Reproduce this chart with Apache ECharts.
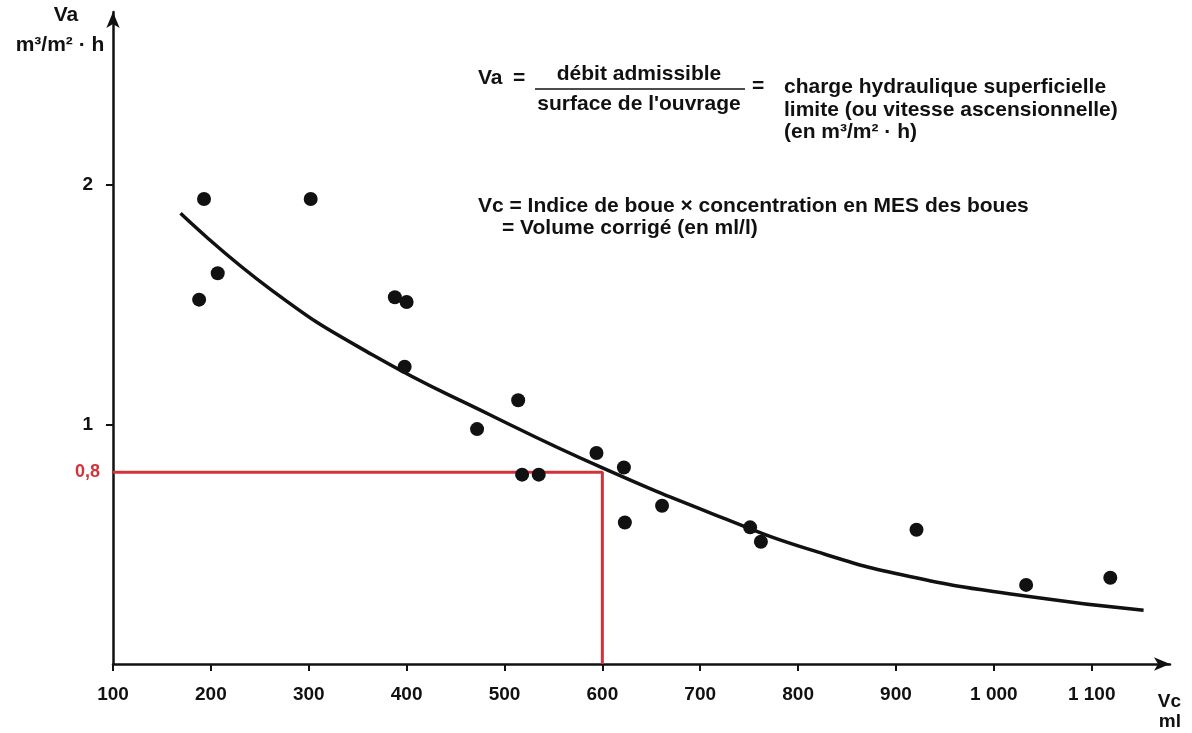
<!DOCTYPE html>
<html>
<head>
<meta charset="utf-8">
<script src="https://cdn.jsdelivr.net/npm/echarts@6/dist/echarts.min.js"></script>
<style>
html, body { margin: 0; padding: 0; background: #fff; }
#chart { width: 1192px; height: 733px; }
</style>
</head>
<body>
<div id="chart"></div>
<script>
// measured points (Vc in ml, Va in m3/m2.h)
const vcPoints = [188, 193, 207, 302, 388, 400, 398, 472, 514, 518, 535, 594, 622, 623, 661, 751, 762, 921, 1033, 1119];
const vaPoints = [1.52, 1.94, 1.63, 1.94, 1.53, 1.51, 1.24, 0.98, 1.10, 0.79, 0.79, 0.88, 0.82, 0.59, 0.66, 0.57, 0.51, 0.56, 0.33, 0.36];

// fitted curve
const curveVc = [169, 262, 365, 485, 599, 723, 814, 914, 1032, 1153];
const curveVa = [1.88, 1.56, 1.29, 1.04, 0.82, 0.61, 0.475, 0.365, 0.284, 0.224];

const xTicks = [100, 200, 300, 400, 500, 600, 700, 800, 900, 1000, 1100];
const xTickLabels = ['100', '200', '300', '400', '500', '600', '700', '800', '900', '1 000', '1 100'];
const yTicks = [1, 2];
const yTickLabels = ['1', '2'];

// reading line for Vc = 600
const refVc = 600;
const refVa = 0.8;
const refLabel = '0,8';

const ink = '#111';
const red = '#d0343a';
const font = '"Liberation Sans", Arial, sans-serif';

const chart = echarts.init(document.getElementById('chart'));

function txt(text, x, y, align, size) {
    return {
        type: 'text',
        style: {
            text: text, x: x, y: y,
            align: align, textAlign: align,
            verticalAlign: 'middle', textVerticalAlign: 'middle',
            fontFamily: font, fontSize: size || 21, fontWeight: 'bold',
            fill: ink
        }
    };
}

const option = {
    animation: false,
    backgroundColor: '#fff',
    grid: { left: 113, right: 22, top: 12, bottom: 69 },
    xAxis: {
        type: 'value',
        min: 100,
        max: 1180,
        splitLine: { show: false },
        axisLine: {
            lineStyle: { color: ink, width: 2.5 },
            symbol: ['none', 'arrow'],
            symbolSize: [10, 16]
        },
        axisTick: {
            customValues: xTicks,
            length: 7,
            lineStyle: { color: ink, width: 2 }
        },
        axisLabel: {
            customValues: xTicks,
            margin: 21,
            color: ink,
            fontFamily: font,
            fontSize: 19,
            fontWeight: 'bold',
            formatter: function (v) {
                const i = xTicks.indexOf(v);
                return i >= 0 ? xTickLabels[i] : '';
            }
        }
    },
    yAxis: {
        type: 'value',
        min: 0,
        max: 2.72,
        splitLine: { show: false },
        axisLine: {
            onZero: false,
            lineStyle: { color: ink, width: 2.5 },
            symbol: ['none', 'arrow'],
            symbolSize: [10, 16]
        },
        axisTick: {
            customValues: yTicks,
            length: 7,
            lineStyle: { color: ink, width: 2 }
        },
        axisLabel: {
            customValues: [refVa].concat(yTicks),
            margin: 13,
            color: ink,
            fontFamily: font,
            fontSize: 19,
            fontWeight: 'bold',
            formatter: function (v) {
                if (v === refVa) return '{r|' + refLabel + '}';
                const i = yTicks.indexOf(v);
                return i >= 0 ? '{n|' + yTickLabels[i] + '}' : '';
            },
            rich: {
                r: { color: red, fontFamily: font, fontSize: 18, fontWeight: 'bold' },
                n: { color: ink, fontFamily: font, fontSize: 19, fontWeight: 'bold', padding: [0, 7, 0, 0] }
            }
        }
    },
    series: [
        {
            name: 'lecture',
            type: 'line',
            data: [[xTicks[0], refVa], [refVc, refVa], [refVc, 0]],
            symbol: 'none',
            lineStyle: { color: red, width: 3 },
            z: 1
        },
        {
            name: 'courbe',
            type: 'line',
            data: curveVc.map((x, i) => [x, curveVa[i]]),
            smooth: 0.5,
            symbol: 'none',
            lineStyle: { color: ink, width: 3.5 },
            z: 2
        },
        {
            name: 'mesures',
            type: 'scatter',
            data: vcPoints.map((x, i) => [x, vaPoints[i]]),
            symbolSize: 14,
            itemStyle: { color: ink, opacity: 1 },
            z: 3
        }
    ],
    graphic: [
        // axis names
        txt('Va', 66, 15, 'center', 21),
        txt('m³/m² · h', 60, 45, 'center', 21),
        txt('Vc', 1181, 702, 'right', 19),
        txt('ml', 1181, 722, 'right', 19),
        // definitions
        txt('Va', 478, 78, 'left'),
        txt('=', 513, 78, 'left'),
        txt('débit admissible', 639, 74, 'center'),
        {
            type: 'line',
            shape: { x1: 535, y1: 89, x2: 745, y2: 89 },
            style: { stroke: ink, lineWidth: 1.5 }
        },
        txt('surface de l\'ouvrage', 639, 104, 'center'),
        txt('=', 752, 86, 'left'),
        txt('charge hydraulique superficielle', 784, 87, 'left'),
        txt('limite (ou vitesse ascensionnelle)', 784, 110, 'left'),
        txt('(en m³/m² · h)', 784, 132, 'left'),
        txt('Vc = Indice de boue × concentration en MES des boues', 478, 206, 'left'),
        txt('= Volume corrigé (en ml/l)', 502, 228, 'left')
    ]
};

chart.setOption(option);
</script>
</body>
</html>
